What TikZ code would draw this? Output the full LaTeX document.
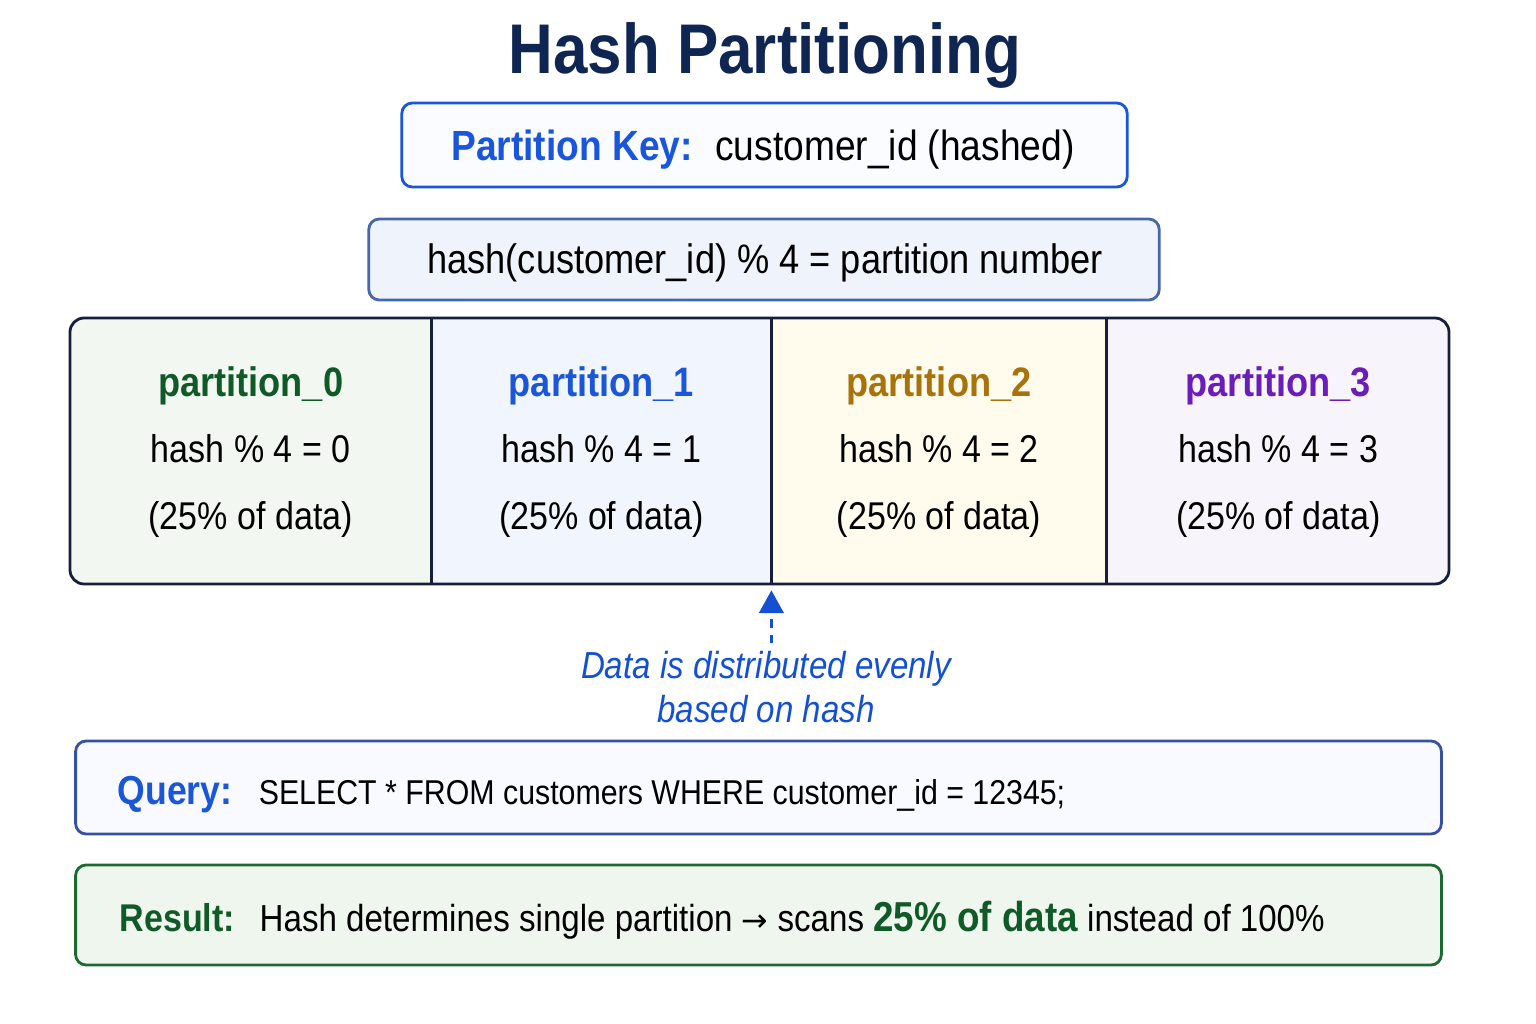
\documentclass[tikz,border=0pt]{standalone}
\usepackage{fontspec}
\setmainfont{Liberation Sans}[FakeStretch=0.88]
\newfontfamily\arrowfont{DejaVu Sans}
\usepackage{tikz}
\usetikzlibrary{arrows.meta,positioning,calc}
\definecolor{titlenavy}{RGB}{16,38,82}
\definecolor{keyblue}{RGB}{26,86,219}
\definecolor{keyfill}{RGB}{250,252,255}
\definecolor{hashdraw}{RGB}{72,102,172}
\definecolor{hashfill}{RGB}{238,243,252}
\definecolor{gridnavy}{RGB}{22,30,60}
\definecolor{cGreen}{RGB}{16,90,40}
\definecolor{cBlue}{RGB}{26,86,214}
\definecolor{cAmber}{RGB}{168,115,10}
\definecolor{cPurple}{RGB}{106,30,185}
\definecolor{fillGreen}{RGB}{242,248,241}
\definecolor{fillBlue}{RGB}{241,245,253}
\definecolor{fillAmber}{RGB}{255,251,237}
\definecolor{fillPurple}{RGB}{248,244,252}
\definecolor{noteblue}{RGB}{20,80,210}
\definecolor{querydraw}{RGB}{55,80,160}
\definecolor{queryfill}{RGB}{248,250,255}
\definecolor{resdraw}{RGB}{30,105,50}
\definecolor{resfill}{RGB}{238,246,238}
\tikzset{
  basebox/.style={rectangle,rounded corners=3pt,thick,align=center,inner sep=0pt,outer sep=0pt},
  keynode/.style={basebox,draw=keyblue,fill=keyfill,minimum width=7.25cm,minimum height=0.84cm,font=\fontsize{12}{14}\selectfont},
  hashnode/.style={basebox,draw=hashdraw,fill=hashfill,minimum width=7.9cm,minimum height=0.81cm,font=\fontsize{11.7}{14}\selectfont},
  cellnode/.style={rectangle,minimum height=2.66cm,align=center,inner sep=0pt,outer sep=0pt,font=\fontsize{11}{19}\selectfont},
  gridline/.style={thick,draw=gridnavy},
  querynode/.style={basebox,draw=querydraw,fill=queryfill,minimum width=13.65cm,minimum height=0.93cm},
  resnode/.style={basebox,draw=resdraw,fill=resfill,minimum width=13.65cm,minimum height=1.0cm},
  linetext/.style={anchor=west,inner sep=0pt,font=\fontsize{9.8}{12}\selectfont},
  notenode/.style={align=center,inner sep=2pt,text=noteblue,font=\itshape\fontsize{10.7}{12.5}\selectfont},
  distarr/.style={-{Triangle[length=6.5pt,width=7pt]},thick,dash pattern=on 2.5pt off 2pt,color=noteblue,shorten >=1.5pt}
}
\newcommand{\celltitle}[2]{{\fontsize{11.7}{19}\selectfont\bfseries\color{#1}#2}}

\begin{document}
\begin{tikzpicture}[x=0.01cm,y=-0.01cm]
  \useasboundingbox[fill=white] (0,0) rectangle (1536,1024);

  %% Title and key
  \node[font=\fontsize{20}{24}\selectfont\bfseries,text=titlenavy] (title) at (765,55) {Hash Partitioning};
  \node[keynode] (key) at (764.5,145) {};
  \node[font=\fontsize{12}{14}\selectfont,inner sep=0pt] (keytext) at (763,150)
    {\textcolor{keyblue}{\bfseries Partition Key:}\hspace{2.5pt} customer\_id (hashed)};
  \node[hashnode] (hash) at (764,259.5) {};
  \node[font=\fontsize{11.7}{14}\selectfont,inner sep=0pt] (hashtext) at (765,263)
    {hash(customer\_id) \% 4 = partition number};

  %% Partitions
  \begin{scope}
    \clip[rounded corners=4pt] (70,318) rectangle (1449,584);
    \node[cellnode,fill=fillGreen,minimum width=3.61cm,anchor=west] (p0) at (70,452)
      {\celltitle{cGreen}{partition\_0}\\hash \% 4 = 0\\(25\% of data)};
    \node[cellnode,fill=fillBlue,minimum width=3.40cm,right=0pt of p0] (p1)
      {\celltitle{cBlue}{partition\_1}\\hash \% 4 = 1\\(25\% of data)};
    \node[cellnode,fill=fillAmber,minimum width=3.35cm,right=0pt of p1] (p2)
      {\celltitle{cAmber}{partition\_2}\\hash \% 4 = 2\\(25\% of data)};
    \node[cellnode,fill=fillPurple,minimum width=3.43cm,right=0pt of p2] (p3)
      {\celltitle{cPurple}{partition\_3}\\hash \% 4 = 3\\(25\% of data)};
  \end{scope}
  \draw[gridline,rounded corners=4pt] (70,318) rectangle (1449,584);
  \draw[gridline] (p0.north east) -- (p0.south east);
  \draw[gridline] (p1.north east) -- (p1.south east);
  \draw[gridline] (p2.north east) -- (p2.south east);

  %% Note
  \node[notenode] (note) at (766,687) {Data is distributed evenly\\based on hash};
  \draw[distarr] (p1.south east |- note.north) -- (p1.south east);

  %% Query and result
  \node[querynode] (query) at (758.5,787.5) {};
  \node[linetext] (qtext) at (117,795)
    {\textcolor{cBlue}{\fontsize{11.5}{12}\selectfont\bfseries Query:}\hspace{7.5pt}SELECT * FROM customers WHERE customer\_id = 12345;};
  \node[resnode] (result) at (758.5,915) {};
  \node[linetext,font=\fontsize{10.7}{12}\selectfont] (rtext) at (119,920)
    {\textcolor{cGreen}{\fontsize{11}{12}\selectfont\bfseries Result:}\hspace{7pt}Hash determines single partition {\arrowfont\fontsize{9}{12}\selectfont →} scans \textcolor{cGreen}{\fontsize{11.9}{12}\selectfont\bfseries 25\% of data} instead of 100\%};
\end{tikzpicture}
\end{document}
